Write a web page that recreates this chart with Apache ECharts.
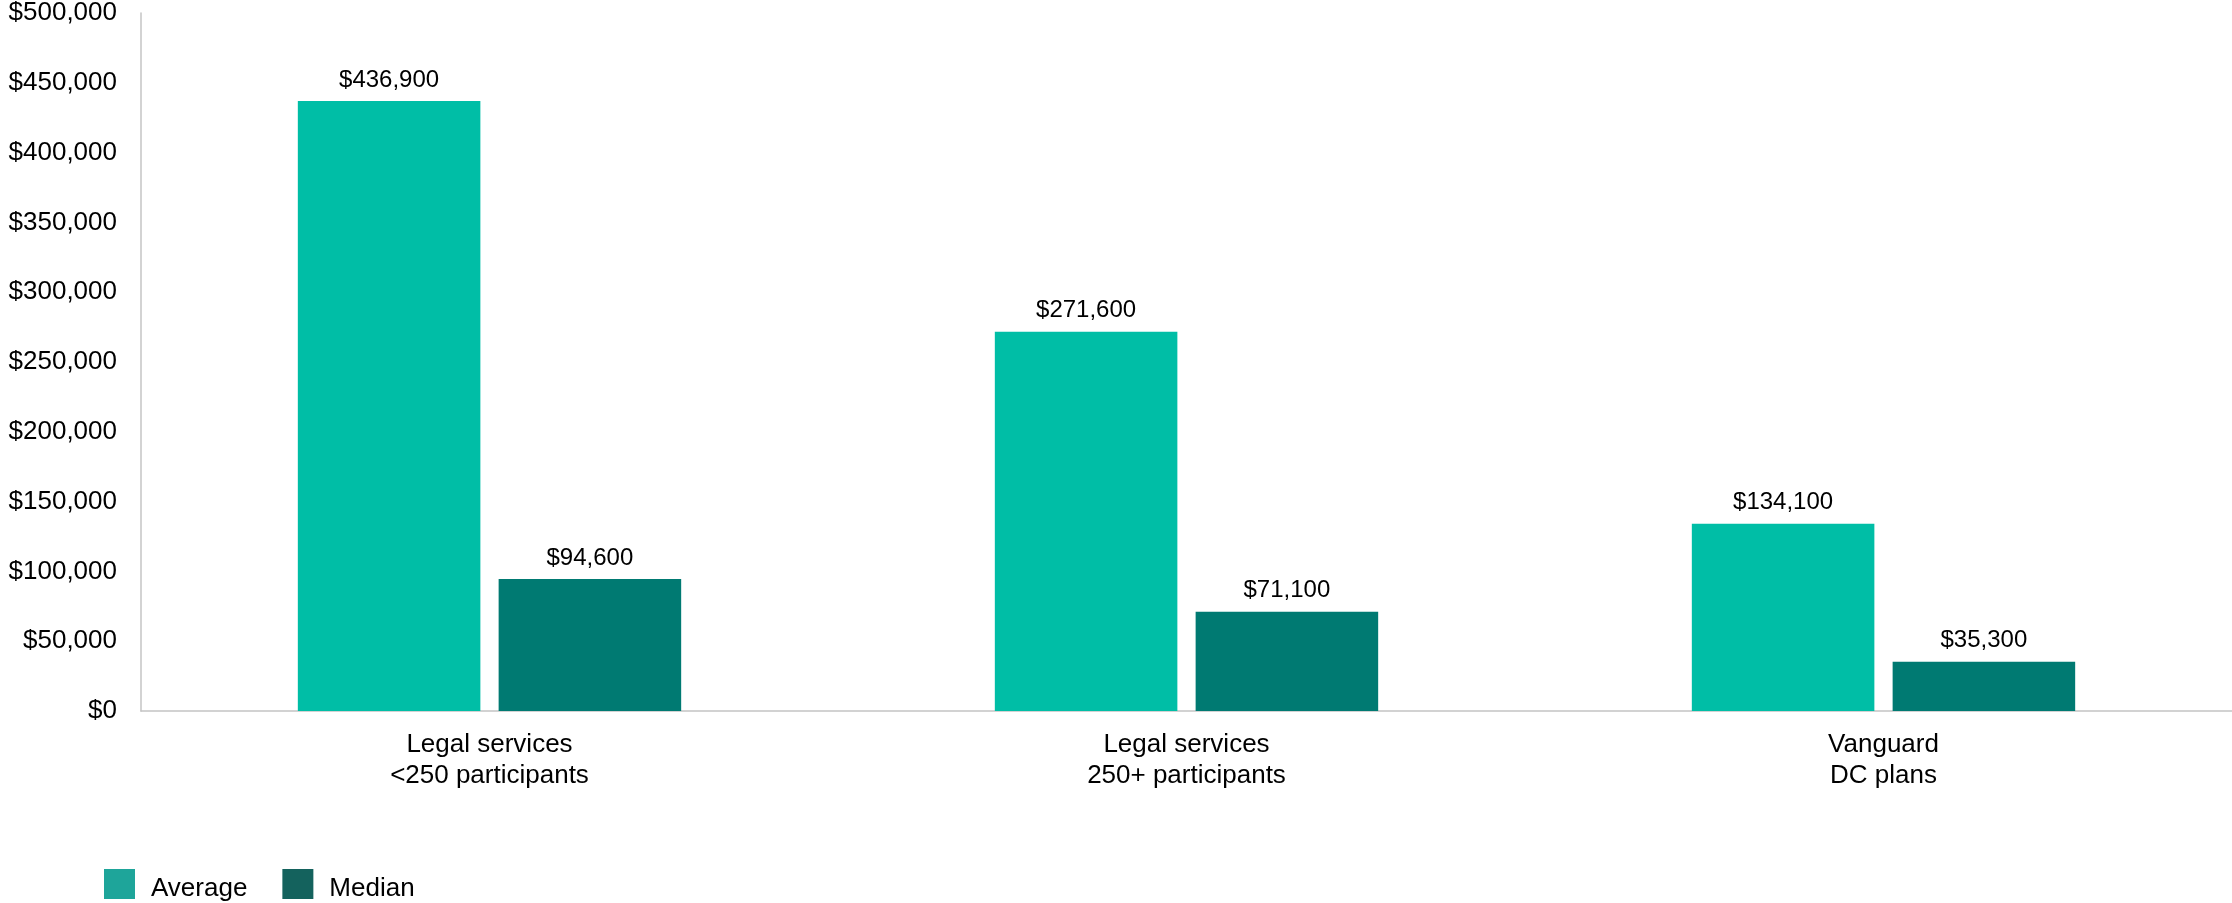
<!DOCTYPE html>
<html>
<head>
<meta charset="utf-8">
<script src="https://cdn.jsdelivr.net/npm/echarts@6/dist/echarts.min.js"></script>
<style>
  html, body { margin: 0; padding: 0; background: #ffffff; }
  #chart { width: 2232px; height: 903px; }
</style>
</head>
<body>
<div id="chart"></div>
<script>
// Account balances by plan group
const categories = ['Legal services\n<250 participants', 'Legal services\n250+ participants', 'Vanguard\nDC plans'];
const averageValues = [436900, 271600, 134100];
const medianValues = [94600, 71100, 35300];
const seriesNames = ['Average', 'Median'];

const FONT = '"Liberation Sans", Arial, sans-serif';
const money = v => '$' + Number(v).toLocaleString('en-US');

const chart = echarts.init(document.getElementById('chart'), null, { renderer: 'canvas' });

const labelStyle = {
  show: true,
  position: 'top',
  distance: 9,
  color: '#000000',
  fontFamily: FONT,
  fontSize: 24,
  formatter: p => money(p.value)
};

chart.setOption({
  animation: false,
  backgroundColor: '#ffffff',
  grid: { left: 141, right: 0, top: 13, bottom: 192, containLabel: false },
  legend: {
    left: 104,
    top: 866,
    padding: 0,
    itemWidth: 31,
    itemHeight: 30,
    itemGap: 35,
    icon: 'rect',
    formatter: name => '{t|' + name + '}',
    textStyle: {
      fontFamily: FONT,
      fontSize: 26,
      color: '#000000',
      rich: {
        t: { fontFamily: FONT, fontSize: 26, color: '#000000', lineHeight: 26, padding: [10, 0, 0, 11] }
      }
    },
    data: [
      { name: seriesNames[0], itemStyle: { color: '#1ea59a' } },
      { name: seriesNames[1], itemStyle: { color: '#14625d' } }
    ]
  },
  xAxis: {
    type: 'category',
    data: categories,
    axisLine: { show: true, lineStyle: { color: '#c4c4c4', width: 1.5 } },
    axisTick: { show: false },
    axisLabel: {
      fontFamily: FONT,
      fontSize: 26,
      lineHeight: 31,
      color: '#000000',
      margin: 18,
      interval: 0
    }
  },
  yAxis: {
    type: 'value',
    min: 0,
    max: 500000,
    interval: 50000,
    axisLine: { show: true, lineStyle: { color: '#c4c4c4', width: 1.5 } },
    axisTick: { show: false },
    splitLine: { show: false },
    axisLabel: {
      fontFamily: FONT,
      fontSize: 26,
      color: '#000000',
      margin: 24,
      formatter: v => money(v)
    }
  },
  series: [
    {
      name: seriesNames[0],
      type: 'bar',
      data: averageValues,
      barGap: '10%',
      barCategoryGap: '45%',
      itemStyle: { color: '#00bea6' },
      label: labelStyle
    },
    {
      name: seriesNames[1],
      type: 'bar',
      data: medianValues,
      barGap: '10%',
      barCategoryGap: '45%',
      itemStyle: { color: '#007a72' },
      label: labelStyle
    }
  ]
});
</script>
</body>
</html>
